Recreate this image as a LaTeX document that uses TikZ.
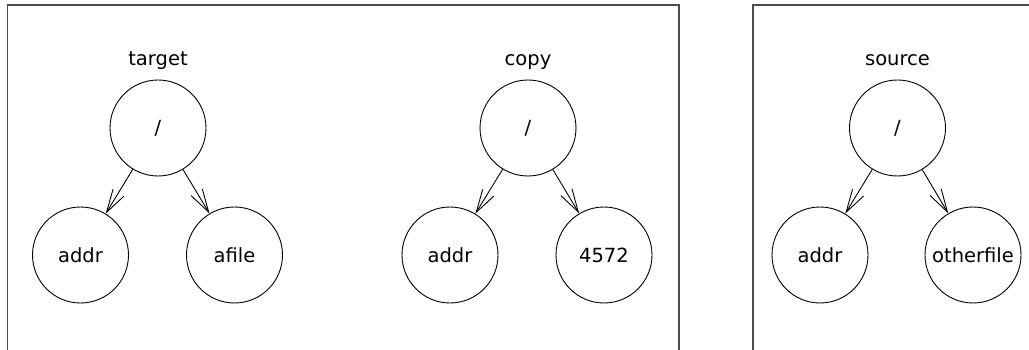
\documentclass[tikz,border=0pt]{standalone}
\usepackage{fontspec}
\setmainfont{DejaVu Sans}
\usetikzlibrary{arrows.meta}
\begin{document}
\begin{tikzpicture}[x=1pt,y=-1pt,
  vertex/.style={draw=black,line width=0.9pt,circle,minimum size=96pt,inner sep=0pt,
    font=\fontsize{19.5}{22}\selectfont},
  caption/.style={anchor=base,font=\fontsize{19.5}{22}\selectfont},
  frame/.style={draw=black!70,line width=1.2pt},
  edge/.style={draw=black,line width=0.9pt,
    -{Straight Barb[length=23pt,width=13pt,line width=0.9pt]}}]
\useasboundingbox (0,0) rectangle (1029,350);
% enclosing frames (open at the bottom)
\draw[frame] (7.5,350) -- (7.5,5) -- (679,5) -- (679,350);
\draw[frame] (753,350) -- (753,5) -- (1029,5);
% tree: target
\node[caption] (lt) at (158,66) {target};
\node[vertex] (t0) at (158,128) {/};
\node[vertex] (t1) at (80.5,255) {addr};
\node[vertex] (t2) at (234.5,255) {afile};
\draw[edge] (t0) -- (t1);
\draw[edge] (t0) -- (t2);
% tree: copy
\node[caption] (lc) at (528,66) {copy};
\node[vertex] (c0) at (528,128) {/};
\node[vertex] (c1) at (450,255) {addr};
\node[vertex] (c2) at (604,255) {4572};
\draw[edge] (c0) -- (c1);
\draw[edge] (c0) -- (c2);
% tree: source
\node[caption] (ls) at (897.5,66) {source};
\node[vertex] (s0) at (897.5,128) {/};
\node[vertex] (s1) at (820,255) {addr};
\node[vertex] (s2) at (973,255) {otherfile};
\draw[edge] (s0) -- (s1);
\draw[edge] (s0) -- (s2);
\end{tikzpicture}
\end{document}
